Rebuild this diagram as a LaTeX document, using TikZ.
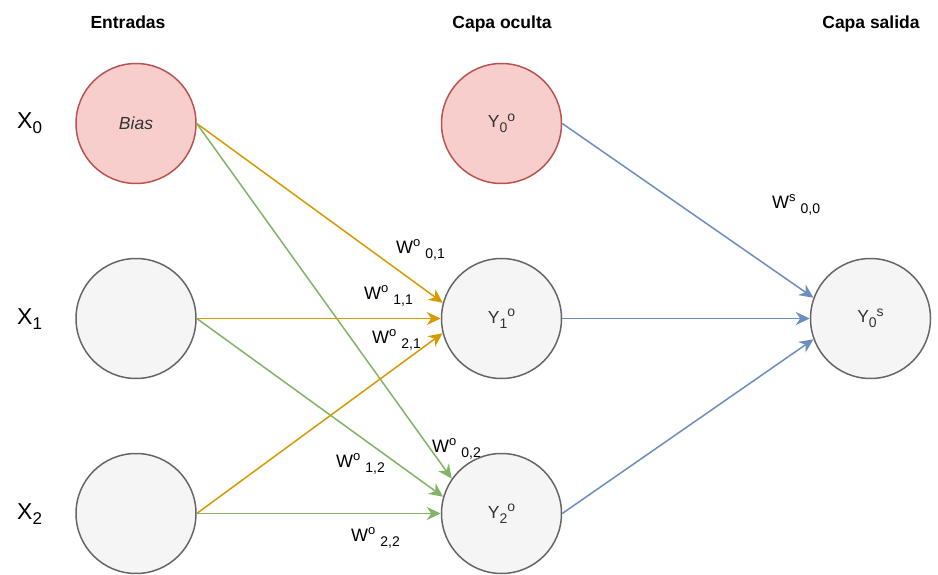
\documentclass[tikz,border=0pt]{standalone}
\usepackage{fontspec}
\setmainfont{Liberation Sans}
\usetikzlibrary{arrows.meta}
\definecolor{orangeln}{HTML}{D79B00}
\definecolor{greenln}{HTML}{82B366}
\definecolor{blueln}{HTML}{6C8EBF}
\definecolor{grayst}{HTML}{666666}
\definecolor{grayfill}{HTML}{F5F5F5}
\definecolor{redst}{HTML}{B85450}
\definecolor{redfill}{HTML}{F8CECC}
\definecolor{txtgray}{HTML}{333333}
\newcommand{\wlab}[2]{W\raisebox{7pt}{\fontsize{13}{13}\selectfont #1}\hspace{5pt}\raisebox{-5pt}{\fontsize{14}{14}\selectfont #2}}
\newcommand{\ylab}[2]{Y\raisebox{-5pt}{\fontsize{14}{14}\selectfont #1}\raisebox{6.5pt}{\fontsize{14}{14}\selectfont #2}}
\newcommand{\xlab}[1]{X\raisebox{-5pt}{\fontsize{17}{17}\selectfont #1}}
\begin{document}
\begin{tikzpicture}[x=1pt,y=-1pt,
  neuron/.style={circle, minimum size=120pt, inner sep=0pt, line width=1.5pt, draw=grayst, fill=grayfill, text=txtgray, font=\fontsize{17.5}{20}\selectfont},
  biasn/.style={neuron, draw=redst, fill=redfill},
  head/.style={anchor=base, inner sep=0pt, font=\fontsize{17.5}{20}\selectfont\bfseries},
  xl/.style={anchor=base west, inner sep=0pt, font=\fontsize{23}{26}\selectfont},
  lab/.style={anchor=base west, inner sep=0pt, font=\fontsize{18}{20}\selectfont},
  conn/.style={line width=1.5pt, -{Stealth[length=14pt,width=13pt,inset=4.5pt]}},
  oe/.style={conn, draw=orangeln, fill=orangeln},
  ge/.style={conn, draw=greenln, fill=greenln},
  be/.style={conn, draw=blueln, fill=blueln}]
\useasboundingbox (0,0) rectangle (938,575);
\fill[white] (0,0) rectangle (938,575);

% headings
\node[head] (hin) at (128,29) {Entradas};
\node[head] (hhid) at (502,29) {Capa oculta};
\node[head] (hout) at (871,29) {Capa salida};

% input labels
\node[xl] (lx0) at (17,129) {\xlab{0}};
\node[xl] (lx1) at (17,324) {\xlab{1}};
\node[xl] (lx2) at (17,519) {\xlab{2}};

% neurons
\node[biasn] (b) at (136,123.5) {\itshape Bias};
\node[neuron] (x1) at (136,318.5) {};
\node[neuron] (x2) at (136,513.5) {};
\node[biasn] (h0) at (501.5,123.5) {\ylab{0}{o}};
\node[neuron] (h1) at (501.5,318.5) {\ylab{1}{o}};
\node[neuron] (h2) at (501.5,513.5) {\ylab{2}{o}};
\node[neuron] (o) at (870.5,318.5) {\ylab{0}{s}};

% connectors
\draw[oe] (b.east) -- (h1.165);
\draw[ge] (b.east) -- (h2.145);
\draw[oe] (x1.east) -- (h1.west);
\draw[ge] (x1.east) -- (h2.164);
\draw[oe] (x2.east) -- (h1.194);
\draw[ge] (x2.east) -- (h2.west);
\draw[be] (h0.east) -- (o.160);
\draw[be] (h1.east) -- (o.west);
\draw[be] (h2.east) -- (o.200);

% weight labels
\node[lab] (w01) at (396,254) {\wlab{o}{0,1}};
\node[lab] (w11) at (364,299) {\wlab{o}{1,1}};
\node[lab] (w21) at (372,343) {\wlab{o}{2,1}};
\node[lab] (w02) at (432,452) {\wlab{o}{0,2}};
\node[lab] (w12) at (336,467) {\wlab{o}{1,2}};
\node[lab] (w22) at (351,541) {\wlab{o}{2,2}};
\node[lab] (ws00) at (772,209) {\wlab{s}{0,0}};
\end{tikzpicture}
\end{document}
